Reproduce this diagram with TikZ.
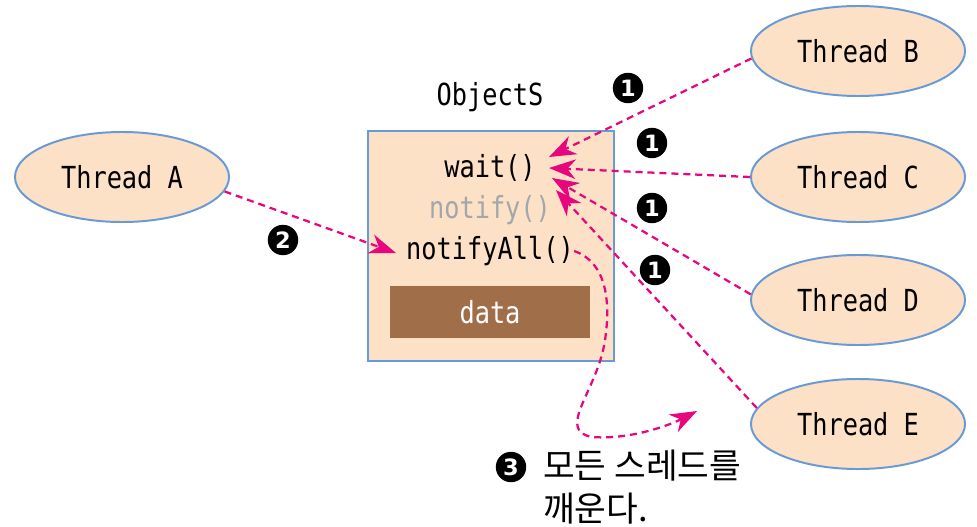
\documentclass[tikz,border=0pt]{standalone}
\usepackage{fontspec}
\setmonofont{DejaVu Sans Mono}
\newfontfamily\krfont{Noto Sans CJK KR}
\newfontfamily\numfont{DejaVu Sans}
\usetikzlibrary{arrows.meta,shapes.geometric}

\definecolor{peach}{HTML}{FCE1C6}
\definecolor{edgeblue}{HTML}{6A9AD6}
\definecolor{datbrown}{HTML}{A06E48}
\definecolor{hotpink}{HTML}{E8067E}
\definecolor{dimgray}{HTML}{A3A6AA}

\newcommand{\tallt}[1]{\scalebox{1}[1.2]{#1}}

\tikzset{
  thread/.style={ellipse, draw=edgeblue, line width=1.4pt, fill=peach,
    minimum width=5.35cm, minimum height=2.25cm,
    font=\ttfamily\fontsize{18}{20}\selectfont},
  meth/.style={font=\ttfamily\fontsize{18}{20}\selectfont, inner sep=0pt},
  num/.style={circle, fill=black, text=white, inner sep=0pt,
    minimum size=0.76cm, font=\numfont\bfseries\fontsize{16}{16}\selectfont},
  call/.style={hotpink, line width=1.6pt, dash pattern=on 5pt off 3.5pt,
    -{Stealth[length=19pt,width=14pt,inset=6pt]}}
}

\begin{document}
\begin{tikzpicture}[x=0.025cm, y=-0.025cm]
 \useasboundingbox (0,0) rectangle (977,526);

 % threads
 \node[thread] (thA) at (122,177) {\tallt{Thread A}};
 \node[thread] (thB) at (858,51)  {\tallt{Thread B}};
 \node[thread] (thC) at (858,177) {\tallt{Thread C}};
 \node[thread] (thD) at (858,300) {\tallt{Thread D}};
 \node[thread] (thE) at (858,424) {\tallt{Thread E}};

 % the shared object
 \draw[edgeblue, line width=1.4pt, fill=peach] (368,131) rectangle (614,361);
 \node[meth] (objS) at (490,97) {\tallt{ObjectS}};
 \node[meth] (wt) at (490,168) {\tallt{wait()}};
 \node[meth, text=dimgray] (nt) at (490,210) {\tallt{notify()}};
 \node[meth] (na) at (490,251) {\tallt{notifyAll()}};
 \node[fill=datbrown, text=white, minimum width=5cm, minimum height=1.28cm,
   font=\ttfamily\fontsize{18}{20}\selectfont] (dat) at (490,312) {\tallt{data}};

 \coordinate (w1) at (549,157);
 \coordinate (w2) at (549,168);
 \coordinate (w3) at (552,178);
 \coordinate (w4) at (556,190);
 \coordinate (n1) at (396,253);
 \coordinate (wake) at (697,411);

 % steps
 \node[num] (s1a) at (628,88)  {1};
 \node[num] (s1b) at (652,143) {1};
 \node[num] (s1c) at (652,208) {1};
 \node[num] (s1d) at (655,270) {1};
 \node[num] (s2)  at (283,240) {2};
 \node[num] (s3)  at (511,467) {3};
 \node[anchor=west, align=left, inner sep=0pt,
   font=\krfont\fontsize{24.5}{31}\selectfont] (txt) at (543,487)
   {모든 스레드를\\깨운다.};

 \draw[call] (thB.184) -- (w1);
 \draw[call] (thC.west) -- (w2);
 \draw[call] (thD.177) -- (w3);
 \draw[call] (thE.171) -- (w4);
 \draw[call] (thA.-8) -- (n1);
 \draw[call] (na.east) .. controls (606,262) and (611,300) .. (605,340)
   .. controls (598,390) and (555,430) .. (592,437)
   .. controls (630,440) and (670,425) .. (wake);

\end{tikzpicture}
\end{document}
